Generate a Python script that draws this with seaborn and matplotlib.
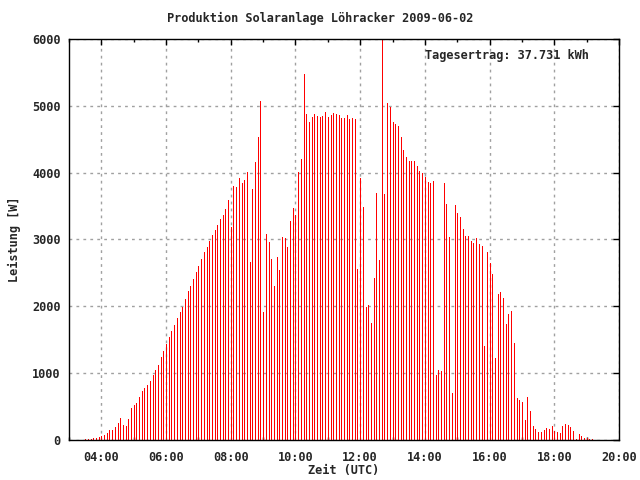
import matplotlib
matplotlib.use("Agg")
import matplotlib.pyplot as plt
import seaborn as sns
import pandas as pd
import numpy as np
from matplotlib.ticker import FixedLocator, MultipleLocator

# ---- data -----------------------------------------------------------------
title = "Produktion Solaranlage Löhracker 2009-06-02"
daily_yield = "Tagesertrag: 37.731 kWh"
start_time = "2009-06-02 03:30"
interval = "5min"

power_w = [
    15, 15, 15, 30, 30, 45, 60, 75, 105, 150, 150, 195, 255, 330, 225, 210,
    315, 480, 525, 555, 645, 735, 780, 825, 885, 975, 1050, 1125, 1245, 1335,
    1440, 1545, 1635, 1725, 1830, 1920, 1995, 2115, 2235, 2310, 2415, 2520,
    2610, 2715, 2820, 2895, 2985, 3060, 3135, 3210, 3300, 3360, 3450, 3585,
    3180, 3795, 3780, 3915, 3840, 3885, 4005, 2670, 3750, 4155, 4530,
    5070, 1920, 3075, 2970, 2715, 2310, 2745, 2550, 3030, 3015, 2895, 3270,
    3465, 3360, 4005, 4200, 5475, 4875, 4755, 4830, 4875, 4845, 4830, 4845,
    4905, 4830, 4860, 4890, 4875, 4860, 4815, 4815, 4860, 4800, 4815, 4800,
    2565, 3915, 3480, 1995, 2025, 1755, 2430, 3690, 2700, 6050, 3675, 5040,
    4980, 4755, 4725, 4695, 4530, 4335, 4230, 4170, 4170, 4170, 4095, 4020,
    3990, 3930, 3855, 3840, 3870, 975, 1050, 1035, 3840, 3525, 3030,
    705, 3510, 3390, 3330, 3150, 3045, 3045, 2985, 2955, 3015, 2940, 2910,
    1410, 2820, 2655, 2490, 1230, 2190, 2220, 2130, 1740, 1890, 1935, 1455,
    630, 600, 570, 300, 645, 435, 210, 165, 120, 120, 150, 180, 165, 210,
    135, 120, 105, 210, 240, 225, 195, 135, 15, 90, 60, 30, 30, 15, 15,
]

x_tick_hours = [4, 6, 8, 10, 12, 14, 16, 18, 20]
x_tick_labels = ["04:00", "06:00", "08:00", "10:00", "12:00", "14:00",
                 "16:00", "18:00", "20:00"]
y_ticks = [0, 1000, 2000, 3000, 4000, 5000, 6000]

# ---- build table ----------------------------------------------------------
times = pd.date_range(start_time, periods=len(power_w), freq=interval)
hours = times.hour + times.minute / 60.0
df = pd.DataFrame({"hour": np.asarray(hours, dtype=float), "power": power_w})

# ---- style ----------------------------------------------------------------
sns.set_style("white")
plt.rcParams["font.family"] = ["DejaVu Sans Mono"]
plt.rcParams["font.weight"] = "bold"
FS = 8.6

fig = plt.figure(figsize=(6.4, 4.8), dpi=100)
ax = fig.add_axes([69 / 640, 40 / 480, 550 / 640, 401 / 480])

# impulse-like bars: zero-width bars stroked with a 1 px red edge
sns.barplot(data=df, x="hour", y="power", native_scale=True, color="#ff0000",
            saturation=1, width=0.0, linewidth=0.72, edgecolor="#ff0000",
            errorbar=None, ax=ax, zorder=3)
for p in ax.patches:
    p.set_snap(True)
    p.set_antialiased(False)

ax.set_xlim(3, 20)
ax.set_ylim(0, 6000)
ax.xaxis.set_major_locator(FixedLocator(x_tick_hours))
ax.set_xticklabels(x_tick_labels, fontsize=FS, fontweight="bold")
ax.xaxis.set_minor_locator(MultipleLocator(1))
ax.set_yticks(y_ticks)
ax.set_yticklabels([str(v) for v in y_ticks], fontsize=FS, fontweight="bold")

ax.tick_params(axis="both", which="major", direction="in", length=4.5,
               width=1, color="black", top=True, right=True, pad=6)
ax.tick_params(axis="x", which="minor", direction="in", length=2.5,
               width=1, color="black", top=True, bottom=True)
ax.tick_params(axis="x", which="major", pad=8)

ax.grid(True, which="major", color="#a0a0a0", linestyle=(0, (2, 3)),
        linewidth=1, zorder=0)
ax.set_axisbelow(True)
for s in ax.spines.values():
    s.set_color("black")
    s.set_linewidth(1)
    s.set_zorder(5)

ax.set_xlabel("Zeit (UTC)", fontsize=FS, fontweight="bold", labelpad=0)
ax.set_ylabel("Leistung [W]", fontsize=FS, fontweight="bold", labelpad=8)

fig.text(0.5, 1 - 18 / 480, title, ha="center", va="center",
         fontsize=FS, fontweight="bold")
ax.text(0.648, 0.958, daily_yield, transform=ax.transAxes, ha="left",
        va="center", fontsize=FS, fontweight="bold", zorder=6)

fig.savefig("out.png", dpi=100)
